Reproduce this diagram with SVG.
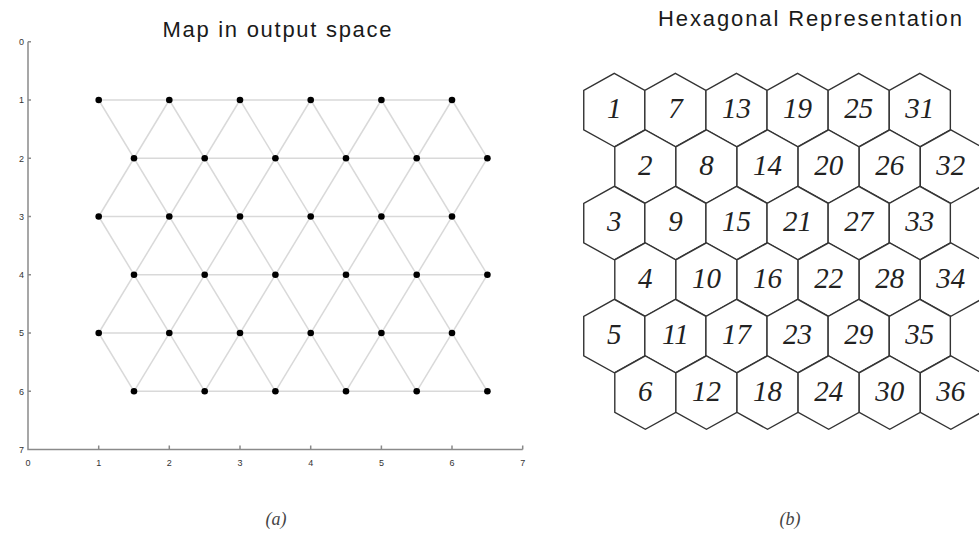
<svg xmlns="http://www.w3.org/2000/svg" xmlns:xlink="http://www.w3.org/1999/xlink" width="979" height="536" viewBox="0 0 979 536">
<style>
.title{font-family:"Liberation Sans",Arial,sans-serif;font-size:22px;fill:#1a1a1a}
.tick{font-family:"Liberation Sans",Arial,sans-serif;font-size:9px;fill:#333}
.axis{stroke:#8a8a8a;stroke-width:1.5;fill:none}
.mesh line{stroke:#d9d9d9;stroke-width:1.5}
.dot{fill:#000}
.hexs{fill:#fff;stroke:#333;stroke-width:1.4;stroke-linejoin:miter}
.lbl{font-family:"Liberation Serif","Times New Roman",serif;font-style:italic;font-size:29px;fill:#222;text-anchor:middle}
.cap{font-family:"Liberation Serif","Times New Roman",serif;font-style:italic;font-size:18px;fill:#444;text-anchor:middle}
</style>
<defs>
<polygon id="hex" points="0,-36.75 30.55,-19.75 30.55,19.75 0,36.75 -30.55,19.75 -30.55,-19.75"/>
</defs>
<rect width="979" height="536" fill="#fff"/>

<!-- Panel (a) -->
<text class="title" x="277" y="36.7" text-anchor="middle" textLength="229" lengthAdjust="spacing">Map in output space</text>
<g id="axes">
<path class="axis" d="M28,41.7V449.5H522.7"/>
<path class="axis" stroke-width="1" d="M28,41.7h3M28,100h3M28,158.2h3M28,216.5h3M28,274.7h3M28,333h3M28,391.3h3M98.7,449.5v-4M169.3,449.5v-4M240,449.5v-4M310.7,449.5v-4M381.4,449.5v-4M452,449.5v-4M522.7,449.5v-4"/>
<g class="tick" text-anchor="end">
<text x="24" y="45">0</text><text x="24" y="103.3">1</text><text x="24" y="161.5">2</text><text x="24" y="219.8">3</text><text x="24" y="278">4</text><text x="24" y="336.3">5</text><text x="24" y="394.6">6</text><text x="24" y="452.8">7</text>
</g>
<g class="tick" text-anchor="middle">
<text x="28" y="466">0</text><text x="98.7" y="466">1</text><text x="169.3" y="466">2</text><text x="240" y="466">3</text><text x="310.7" y="466">4</text><text x="381.4" y="466">5</text><text x="452" y="466">6</text><text x="522.7" y="466">7</text>
</g>
</g>
<g id="connectors" class="mesh">
<line x1="98.7" y1="100" x2="452" y2="100"/>
<line x1="134" y1="158.2" x2="487.4" y2="158.2"/>
<line x1="98.7" y1="216.5" x2="452" y2="216.5"/>
<line x1="134" y1="274.7" x2="487.4" y2="274.7"/>
<line x1="98.7" y1="333" x2="452" y2="333"/>
<line x1="134" y1="391.3" x2="487.4" y2="391.3"/>
<line x1="98.7" y1="100" x2="275.4" y2="391.3"/>
<line x1="169.3" y1="100" x2="346" y2="391.3"/>
<line x1="240" y1="100" x2="416.7" y2="391.3"/>
<line x1="310.7" y1="100" x2="487.4" y2="391.3"/>
<line x1="381.4" y1="100" x2="487.4" y2="274.7"/>
<line x1="452" y1="100" x2="487.4" y2="158.2"/>
<line x1="98.7" y1="216.5" x2="204.7" y2="391.3"/>
<line x1="98.7" y1="333" x2="134" y2="391.3"/>
<line x1="169.3" y1="100" x2="98.7" y2="216.5"/>
<line x1="240" y1="100" x2="98.7" y2="333"/>
<line x1="310.7" y1="100" x2="134" y2="391.3"/>
<line x1="381.4" y1="100" x2="204.7" y2="391.3"/>
<line x1="452" y1="100" x2="275.4" y2="391.3"/>
<line x1="487.4" y1="158.2" x2="346" y2="391.3"/>
<line x1="487.4" y1="274.7" x2="416.7" y2="391.3"/>
</g>
<g id="points" class="dot">
<circle cx="98.7" cy="100" r="3.3"/><circle cx="169.3" cy="100" r="3.3"/><circle cx="240" cy="100" r="3.3"/><circle cx="310.7" cy="100" r="3.3"/><circle cx="381.4" cy="100" r="3.3"/><circle cx="452" cy="100" r="3.3"/>
<circle cx="134" cy="158.2" r="3.3"/><circle cx="204.7" cy="158.2" r="3.3"/><circle cx="275.4" cy="158.2" r="3.3"/><circle cx="346" cy="158.2" r="3.3"/><circle cx="416.7" cy="158.2" r="3.3"/><circle cx="487.4" cy="158.2" r="3.3"/>
<circle cx="98.7" cy="216.5" r="3.3"/><circle cx="169.3" cy="216.5" r="3.3"/><circle cx="240" cy="216.5" r="3.3"/><circle cx="310.7" cy="216.5" r="3.3"/><circle cx="381.4" cy="216.5" r="3.3"/><circle cx="452" cy="216.5" r="3.3"/>
<circle cx="134" cy="274.7" r="3.3"/><circle cx="204.7" cy="274.7" r="3.3"/><circle cx="275.4" cy="274.7" r="3.3"/><circle cx="346" cy="274.7" r="3.3"/><circle cx="416.7" cy="274.7" r="3.3"/><circle cx="487.4" cy="274.7" r="3.3"/>
<circle cx="98.7" cy="333" r="3.3"/><circle cx="169.3" cy="333" r="3.3"/><circle cx="240" cy="333" r="3.3"/><circle cx="310.7" cy="333" r="3.3"/><circle cx="381.4" cy="333" r="3.3"/><circle cx="452" cy="333" r="3.3"/>
<circle cx="134" cy="391.3" r="3.3"/><circle cx="204.7" cy="391.3" r="3.3"/><circle cx="275.4" cy="391.3" r="3.3"/><circle cx="346" cy="391.3" r="3.3"/><circle cx="416.7" cy="391.3" r="3.3"/><circle cx="487.4" cy="391.3" r="3.3"/>
</g>
<text class="cap" x="276" y="525">(a)</text>

<!-- Panel (b) -->
<text class="title" x="810" y="26" text-anchor="middle" textLength="304" lengthAdjust="spacing">Hexagonal Representation</text>
<g id="hexgrid">
<g id="h1" transform="translate(614.3,110.05)"><use href="#hex" class="hexs"/><text class="lbl" y="8">1</text></g>
<g id="h7" transform="translate(675.4,110.05)"><use href="#hex" class="hexs"/><text class="lbl" y="8">7</text></g>
<g id="h13" transform="translate(736.5,110.05)"><use href="#hex" class="hexs"/><text class="lbl" y="8">13</text></g>
<g id="h19" transform="translate(797.6,110.05)"><use href="#hex" class="hexs"/><text class="lbl" y="8">19</text></g>
<g id="h25" transform="translate(858.7,110.05)"><use href="#hex" class="hexs"/><text class="lbl" y="8">25</text></g>
<g id="h31" transform="translate(919.8,110.05)"><use href="#hex" class="hexs"/><text class="lbl" y="8">31</text></g>

<g id="h2" transform="translate(645.35,166.55)"><use href="#hex" class="hexs"/><text class="lbl" y="8">2</text></g>
<g id="h8" transform="translate(706.45,166.55)"><use href="#hex" class="hexs"/><text class="lbl" y="8">8</text></g>
<g id="h14" transform="translate(767.55,166.55)"><use href="#hex" class="hexs"/><text class="lbl" y="8">14</text></g>
<g id="h20" transform="translate(828.65,166.55)"><use href="#hex" class="hexs"/><text class="lbl" y="8">20</text></g>
<g id="h26" transform="translate(889.75,166.55)"><use href="#hex" class="hexs"/><text class="lbl" y="8">26</text></g>
<g id="h32" transform="translate(950.85,166.55)"><use href="#hex" class="hexs"/><text class="lbl" y="8">32</text></g>

<g id="h3" transform="translate(614.3,223.05)"><use href="#hex" class="hexs"/><text class="lbl" y="8">3</text></g>
<g id="h9" transform="translate(675.4,223.05)"><use href="#hex" class="hexs"/><text class="lbl" y="8">9</text></g>
<g id="h15" transform="translate(736.5,223.05)"><use href="#hex" class="hexs"/><text class="lbl" y="8">15</text></g>
<g id="h21" transform="translate(797.6,223.05)"><use href="#hex" class="hexs"/><text class="lbl" y="8">21</text></g>
<g id="h27" transform="translate(858.7,223.05)"><use href="#hex" class="hexs"/><text class="lbl" y="8">27</text></g>
<g id="h33" transform="translate(919.8,223.05)"><use href="#hex" class="hexs"/><text class="lbl" y="8">33</text></g>

<g id="h4" transform="translate(645.35,279.55)"><use href="#hex" class="hexs"/><text class="lbl" y="8">4</text></g>
<g id="h10" transform="translate(706.45,279.55)"><use href="#hex" class="hexs"/><text class="lbl" y="8">10</text></g>
<g id="h16" transform="translate(767.55,279.55)"><use href="#hex" class="hexs"/><text class="lbl" y="8">16</text></g>
<g id="h22" transform="translate(828.65,279.55)"><use href="#hex" class="hexs"/><text class="lbl" y="8">22</text></g>
<g id="h28" transform="translate(889.75,279.55)"><use href="#hex" class="hexs"/><text class="lbl" y="8">28</text></g>
<g id="h34" transform="translate(950.85,279.55)"><use href="#hex" class="hexs"/><text class="lbl" y="8">34</text></g>

<g id="h5" transform="translate(614.3,336.05)"><use href="#hex" class="hexs"/><text class="lbl" y="8">5</text></g>
<g id="h11" transform="translate(675.4,336.05)"><use href="#hex" class="hexs"/><text class="lbl" y="8">11</text></g>
<g id="h17" transform="translate(736.5,336.05)"><use href="#hex" class="hexs"/><text class="lbl" y="8">17</text></g>
<g id="h23" transform="translate(797.6,336.05)"><use href="#hex" class="hexs"/><text class="lbl" y="8">23</text></g>
<g id="h29" transform="translate(858.7,336.05)"><use href="#hex" class="hexs"/><text class="lbl" y="8">29</text></g>
<g id="h35" transform="translate(919.8,336.05)"><use href="#hex" class="hexs"/><text class="lbl" y="8">35</text></g>

<g id="h6" transform="translate(645.35,392.55)"><use href="#hex" class="hexs"/><text class="lbl" y="8">6</text></g>
<g id="h12" transform="translate(706.45,392.55)"><use href="#hex" class="hexs"/><text class="lbl" y="8">12</text></g>
<g id="h18" transform="translate(767.55,392.55)"><use href="#hex" class="hexs"/><text class="lbl" y="8">18</text></g>
<g id="h24" transform="translate(828.65,392.55)"><use href="#hex" class="hexs"/><text class="lbl" y="8">24</text></g>
<g id="h30" transform="translate(889.75,392.55)"><use href="#hex" class="hexs"/><text class="lbl" y="8">30</text></g>
<g id="h36" transform="translate(950.85,392.55)"><use href="#hex" class="hexs"/><text class="lbl" y="8">36</text></g>
</g>
<text class="cap" x="790" y="525">(b)</text>
</svg>
